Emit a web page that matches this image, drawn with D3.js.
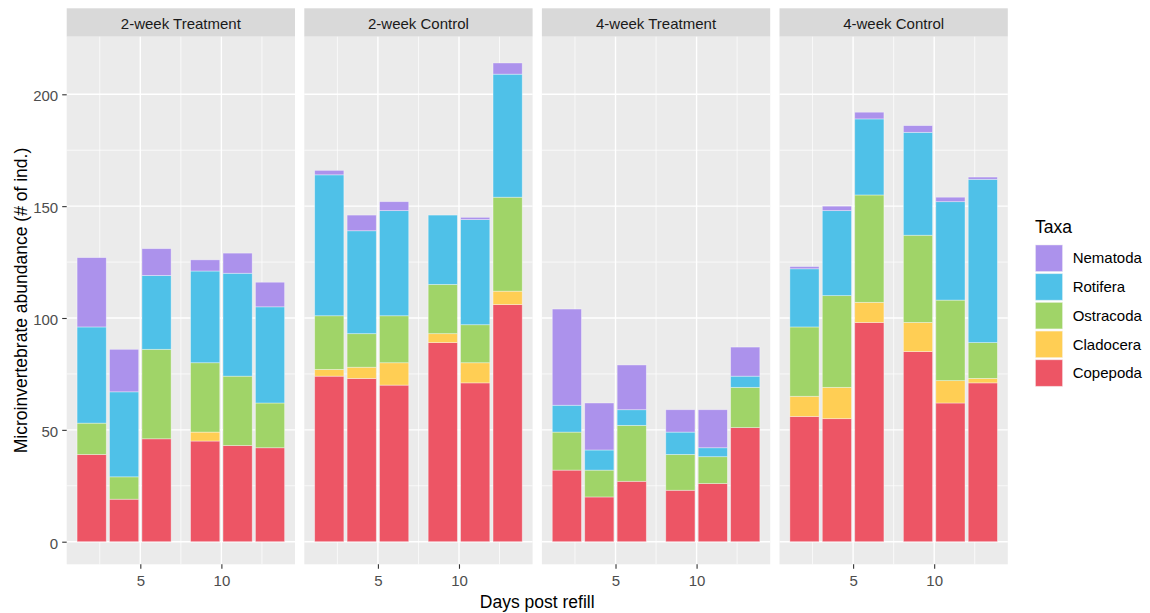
<!DOCTYPE html>
<html>
<head>
<meta charset="utf-8">
<script src="https://cdn.jsdelivr.net/npm/d3@7/dist/d3.min.js"></script>
<style>
  html, body { margin: 0; padding: 0; background: #ffffff; }
  svg { display: block; font-family: "Liberation Sans", Arial, sans-serif; }
</style>
</head>
<body>
<svg id="chart" width="1150" height="613"></svg>
<script>
// Facet panels, sampling days and taxa (legend order, top to bottom)
const panels = ["2-week Treatment", "2-week Control", "4-week Treatment", "4-week Control"];
const days = [2, 4, 6, 9, 11, 13];
const taxa = ["Nematoda", "Rotifera", "Ostracoda", "Cladocera", "Copepoda"];
const taxaColors = ["#AC92EC", "#4FC1E8", "#A0D468", "#FFCE54", "#ED5565"];
const xTicks = [5, 10];
const xMinor = [2.5, 7.5, 12.5];
const yTicks = [0, 50, 100, 150, 200];
const yMinor = [25, 75, 125, 175];

// Abundance per taxon: 6 days for each panel, panels in the order above
const copepoda  = [39, 19, 46, 45, 43, 42,   74, 73, 70, 89, 71, 106,  32, 20, 27, 23, 26, 51,  56, 55, 98, 85, 62, 71];
const cladocera = [ 0,  0,  0,  4,  0,  0,    3,  5, 10,  4,  9,   6,   0,  0,  0,  0,  0,  0,   9, 14,  9, 13, 10,  2];
const ostracoda = [14, 10, 40, 31, 31, 20,   24, 15, 21, 22, 17,  42,  17, 12, 25, 16, 12, 18,  31, 41, 48, 39, 36, 16];
const rotifera  = [43, 38, 33, 41, 46, 43,   63, 46, 47, 31, 47,  55,  12,  9,  7, 10,  4,  5,  26, 38, 34, 46, 44, 73];
const nematoda  = [31, 19, 12,  5,  9, 11,    2,  7,  4,  0,  1,   5,  43, 21, 20, 10, 17, 13,   1,  2,  3,  3,  2,  1];

// Stacking order: bottom to top
const stackKeys = ["Copepoda", "Cladocera", "Ostracoda", "Rotifera", "Nematoda"];
const seriesByTaxon = {
  Copepoda: copepoda, Cladocera: cladocera, Ostracoda: ostracoda,
  Rotifera: rotifera, Nematoda: nematoda
};

const rows = [];
panels.forEach((p, pi) => {
  days.forEach((d, di) => {
    const row = { panel: p, day: d };
    stackKeys.forEach(k => { row[k] = seriesByTaxon[k][pi * days.length + di]; });
    rows.push(row);
  });
});

const color = d3.scaleOrdinal().domain(taxa).range(taxaColors);
const stack = d3.stack().keys(stackKeys);

const svg = d3.select("#chart");

// Layout
const panelLeft = 66.7, panelW = 228.3, panelGap = 9.3;
const stripTop = 8.3, panelTop = 36.7, panelBottom = 564.3;

const y = d3.scaleLinear().domain([0, 200]).range([541.7, 94.3]);
const barWidth = 1.8; // in days

panels.forEach((p, pi) => {
  const x0 = panelLeft + pi * (panelW + panelGap);
  const x = d3.scaleLinear().domain([0.46, 14.54]).range([x0, x0 + panelW]);
  const g = svg.append("g");

  // Strip
  g.append("rect").attr("x", x0).attr("y", stripTop)
    .attr("width", panelW).attr("height", panelTop - stripTop)
    .attr("fill", "#D9D9D9");
  g.append("text").attr("x", x0 + panelW / 2).attr("y", (stripTop + panelTop) / 2 + 1.5)
    .attr("dy", "0.35em").attr("text-anchor", "middle")
    .attr("font-size", 15).attr("fill", "#1A1A1A").text(p);

  // Panel background
  g.append("rect").attr("x", x0).attr("y", panelTop)
    .attr("width", panelW).attr("height", panelBottom - panelTop)
    .attr("fill", "#EBEBEB");

  // Grid lines
  const grid = g.append("g").attr("stroke", "#ffffff");
  grid.selectAll(".ym").data(yMinor).join("line")
    .attr("x1", x0).attr("x2", x0 + panelW)
    .attr("y1", d => y(d)).attr("y2", d => y(d)).attr("stroke-width", 0.7);
  grid.selectAll(".xm").data(xMinor).join("line")
    .attr("y1", panelTop).attr("y2", panelBottom)
    .attr("x1", d => x(d)).attr("x2", d => x(d)).attr("stroke-width", 0.7);
  grid.selectAll(".yM").data(yTicks).join("line")
    .attr("x1", x0).attr("x2", x0 + panelW)
    .attr("y1", d => y(d)).attr("y2", d => y(d)).attr("stroke-width", 1.4);
  grid.selectAll(".xM").data(xTicks).join("line")
    .attr("y1", panelTop).attr("y2", panelBottom)
    .attr("x1", d => x(d)).attr("x2", d => x(d)).attr("stroke-width", 1.4);

  // Stacked bars
  const pRows = rows.filter(r => r.panel === p);
  const layers = stack(pRows);
  g.append("g").selectAll("g").data(layers).join("g")
    .attr("fill", d => color(d.key))
    .selectAll("rect").data(d => d.filter(s => s[1] > s[0])).join("rect")
    .attr("x", d => x(d.data.day - barWidth / 2))
    .attr("width", d => x(d.data.day + barWidth / 2) - x(d.data.day - barWidth / 2))
    .attr("y", d => y(d[1]))
    .attr("height", d => y(d[0]) - y(d[1]))
    .attr("stroke", "rgba(255,255,255,0.45)")
    .attr("stroke-width", 0.8);

  // X axis
  const xAxis = d3.axisBottom(x).tickValues(xTicks).tickSize(4.5).tickPadding(7);
  const xa = g.append("g").attr("transform", `translate(0,${panelBottom})`).call(xAxis);
  xa.select(".domain").remove();
  xa.selectAll(".tick line").attr("stroke", "#333333").attr("stroke-width", 1.1);
  xa.selectAll(".tick text").attr("fill", "#4D4D4D").attr("font-size", 15)
    .attr("font-family", "Liberation Sans, Arial, sans-serif");

  // Y axis on the first panel only
  if (pi === 0) {
    const yAxis = d3.axisLeft(y).tickValues(yTicks).tickSize(4.5).tickPadding(4);
    const ya = g.append("g").attr("transform", `translate(${x0},0)`).call(yAxis);
    ya.select(".domain").remove();
    ya.selectAll(".tick line").attr("stroke", "#333333").attr("stroke-width", 1.1);
    ya.selectAll(".tick text").attr("fill", "#4D4D4D").attr("font-size", 15)
      .attr("dy", "0.42em")
      .attr("font-family", "Liberation Sans, Arial, sans-serif");
  }
});

// Axis titles
const plotRight = panelLeft + 4 * panelW + 3 * panelGap;
svg.append("text")
  .attr("x", (panelLeft + plotRight) / 2).attr("y", 601.7).attr("dy", "0.35em")
  .attr("text-anchor", "middle").attr("font-size", 17.5).attr("fill", "#000000")
  .text("Days post refill");
svg.append("text")
  .attr("transform", `translate(20.5,${(panelTop + panelBottom) / 2}) rotate(-90)`)
  .attr("dy", "0.35em").attr("text-anchor", "middle")
  .attr("font-size", 17.5).attr("fill", "#000000")
  .text("Microinvertebrate abundance (# of ind.)");

// Legend
const legend = svg.append("g").attr("transform", "translate(1035,0)");
legend.append("text").attr("x", 0).attr("y", 233.3)
  .attr("font-size", 17.5).attr("fill", "#000000").text("Taxa");
const keyPitch = 28.7, keyTop = 244.5;
const items = legend.selectAll(".item").data(taxa).join("g")
  .attr("transform", (d, i) => `translate(0,${keyTop + i * keyPitch})`);
items.append("rect").attr("width", 28).attr("height", 27.5).attr("fill", "#F2F2F2");
items.append("rect").attr("x", 0.5).attr("y", 0.5).attr("width", 27).attr("height", 26.5)
  .attr("fill", d => color(d))
  .attr("stroke", "rgba(255,255,255,0.45)").attr("stroke-width", 0.8);
items.append("text").attr("x", 37.7).attr("y", 13.7).attr("dy", "0.35em")
  .attr("font-size", 15).attr("fill", "#000000").text(d => d);
</script>
</body>
</html>
